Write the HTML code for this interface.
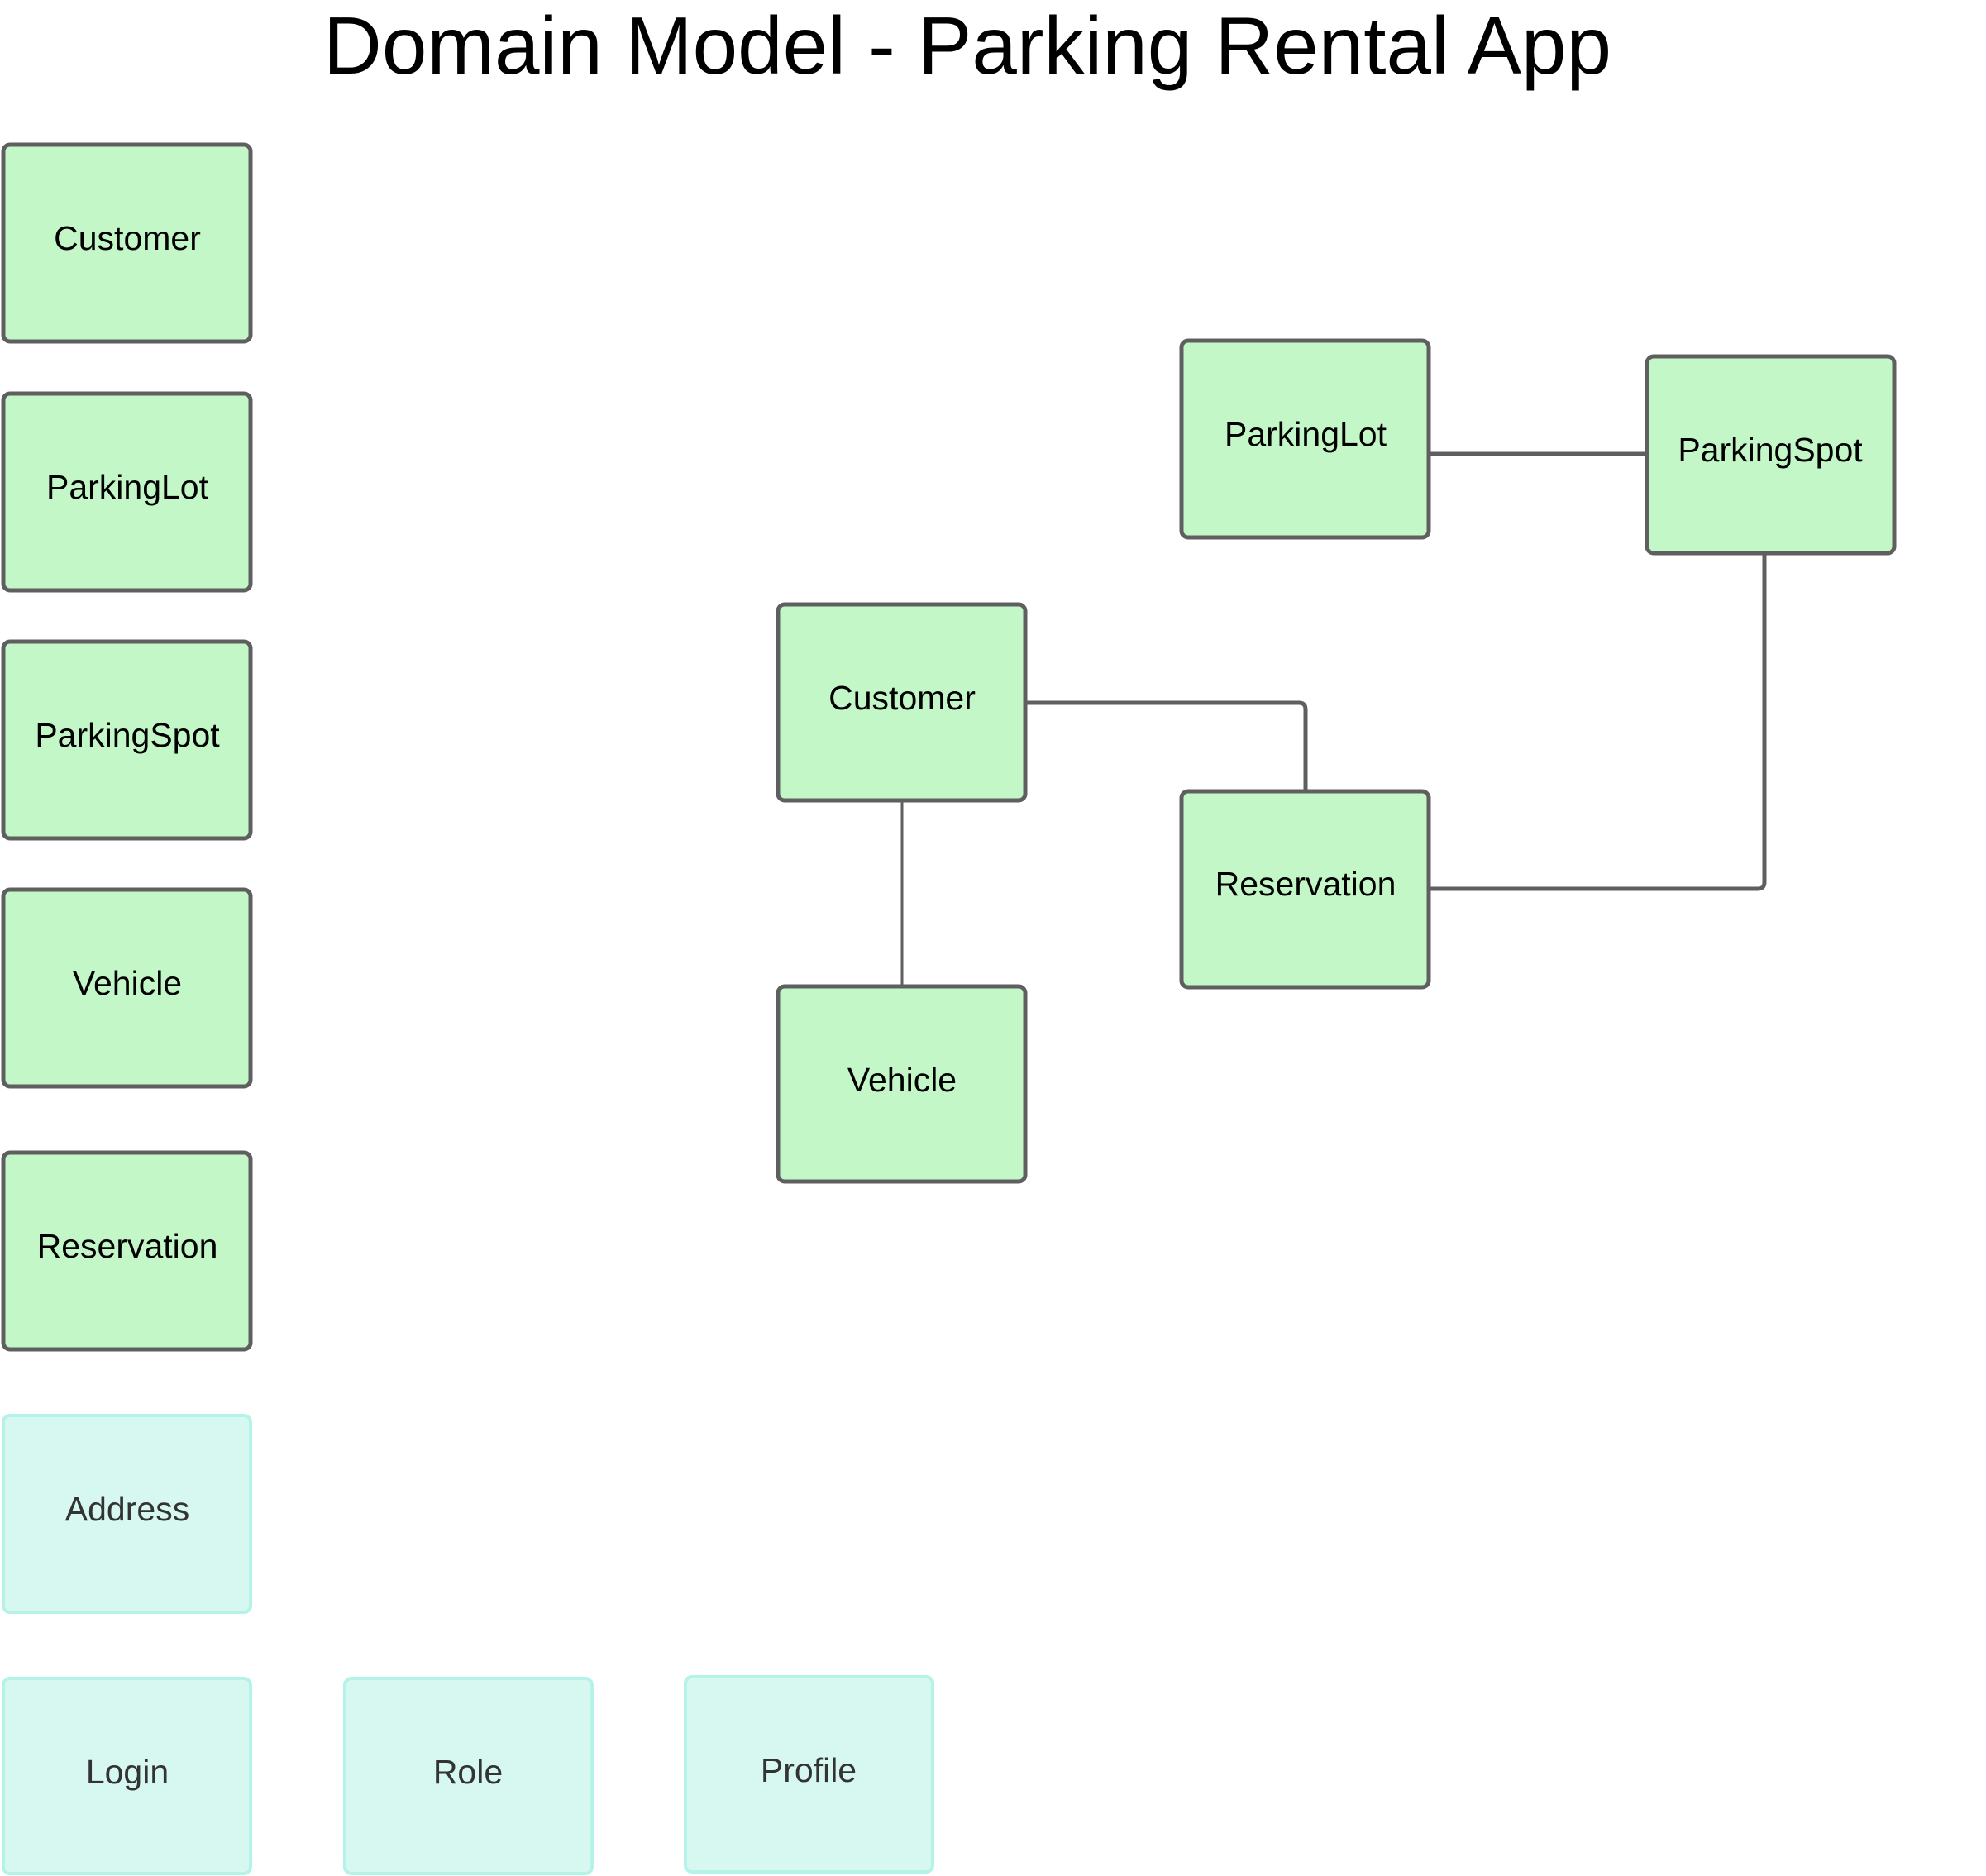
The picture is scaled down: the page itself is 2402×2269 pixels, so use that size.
<!DOCTYPE html>
<html><head><meta charset="utf-8"><style>
html,body{margin:0;padding:0;background:#fff}
body{width:2402px;height:2269px;position:relative;overflow:hidden;font-family:"Liberation Sans",sans-serif}
</style></head><body>
<svg width="2402" height="2269" viewBox="0 0 2402 2269" xmlns="http://www.w3.org/2000/svg" style="position:absolute;left:0;top:0">
<text x="1170" y="89" font-family="Liberation Sans, sans-serif" font-size="98" text-anchor="middle" fill="#000">Domain Model - Parking Rental App</text>
<g fill="none" stroke="#5f5f5f" stroke-linecap="round">
<path d="M1728 549 H1992" stroke-width="5"/>
<path d="M1240 850 H1571 Q1579 850 1579 858 V957" stroke-width="5"/>
<path d="M1728 1075 H2126 Q2134 1075 2134 1067 V667" stroke-width="5"/>
<path d="M1091 968 V1193" stroke-width="3"/>
</g>
<g fill="#c3f7c8" stroke="#5f5f5f" stroke-width="5">
<rect x="4" y="175" width="299" height="238" rx="8"/>
<rect x="4" y="476" width="299" height="238" rx="8"/>
<rect x="4" y="776" width="299" height="238" rx="8"/>
<rect x="4" y="1076" width="299" height="238" rx="8"/>
<rect x="4" y="1394" width="299" height="238" rx="8"/>
<rect x="1429" y="412" width="299" height="238" rx="8"/>
<rect x="1992" y="431" width="299" height="238" rx="8"/>
<rect x="941" y="731" width="299" height="237" rx="8"/>
<rect x="1429" y="957" width="299" height="237" rx="8"/>
<rect x="941" y="1193" width="299" height="236" rx="8"/>
</g>
<g fill="#d6f8f1" stroke="#b5f3e9" stroke-width="4">
<rect x="4" y="1712" width="299" height="238" rx="8"/>
<rect x="4" y="2030" width="299" height="236" rx="8"/>
<rect x="417" y="2030" width="299" height="236" rx="8"/>
<rect x="829" y="2028" width="299" height="236" rx="8"/>
</g>
<g font-family="Liberation Sans, sans-serif" font-size="41" text-anchor="middle" fill="#000">
<text x="154" y="302">Customer</text>
<text x="154" y="603">ParkingLot</text>
<text x="154" y="903">ParkingSpot</text>
<text x="154" y="1203">Vehicle</text>
<text x="154" y="1521">Reservation</text>
<text x="1579" y="539">ParkingLot</text>
<text x="2141" y="558">ParkingSpot</text>
<text x="1091" y="858">Customer</text>
<text x="1579" y="1083">Reservation</text>
<text x="1091" y="1320">Vehicle</text>
</g>
<g font-family="Liberation Sans, sans-serif" font-size="41" text-anchor="middle" fill="#333">
<text x="154" y="1839">Address</text>
<text x="154" y="2157">Login</text>
<text x="566" y="2157">Role</text>
<text x="978" y="2155">Profile</text>
</g>
</svg>
</body></html>
